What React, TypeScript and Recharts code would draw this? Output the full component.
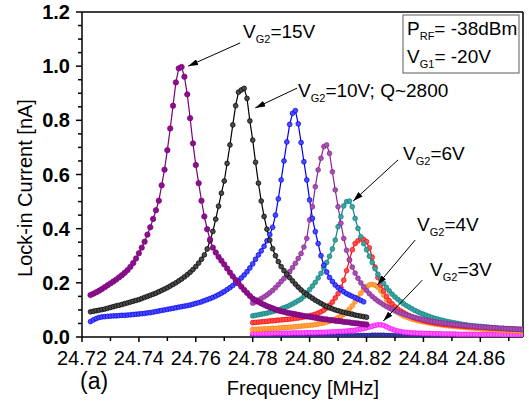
import { LineChart, Line, XAxis, YAxis, ReferenceLine } from 'recharts';

// frequency grid: each series is sampled every 1 kHz from its start frequency
const STEP = 0.001;

// V_G2 = 15 V, from 24.723 MHz
const vg15 = [
  0.155, 0.16, 0.165, 0.171, 0.177, 0.184, 0.191, 0.198, 0.205, 0.212,
  0.22, 0.228, 0.237, 0.247, 0.259, 0.273, 0.29, 0.309, 0.33, 0.352,
  0.378, 0.405, 0.436, 0.468, 0.503, 0.56, 0.618, 0.69, 0.77, 0.854,
  0.94, 0.992, 0.997, 0.961, 0.896, 0.808, 0.715, 0.635, 0.568, 0.503,
  0.445, 0.398, 0.36, 0.33, 0.312, 0.296, 0.282, 0.268, 0.253, 0.238,
  0.224, 0.211, 0.198, 0.186, 0.174, 0.163, 0.152, 0.142, 0.136, 0.13,
  0.124, 0.119, 0.114, 0.11, 0.106, 0.102, 0.098, 0.095, 0.093, 0.09,
  0.088, 0.086, 0.084, 0.082, 0.08, 0.078, 0.076, 0.075, 0.073, 0.071,
  0.069, 0.068, 0.066, 0.065, 0.063, 0.062, 0.06, 0.059, 0.058, 0.056,
  0.055, 0.054, 0.052, 0.051, 0.05, 0.048, 0.047, 0.046,
];

// V_G2 = 10 V, from 24.723 MHz
const vg10 = [
  0.093, 0.095, 0.097, 0.099, 0.101, 0.103, 0.106, 0.109, 0.112, 0.115,
  0.117, 0.12, 0.123, 0.126, 0.129, 0.132, 0.135, 0.138, 0.142, 0.146,
  0.15, 0.154, 0.158, 0.162, 0.167, 0.172, 0.177, 0.182, 0.188, 0.194,
  0.2, 0.207, 0.214, 0.222, 0.23, 0.239, 0.249, 0.26, 0.273, 0.287,
  0.303, 0.325, 0.355, 0.39, 0.435, 0.483, 0.531, 0.576, 0.641, 0.709,
  0.783, 0.854, 0.904, 0.912, 0.918, 0.881, 0.798, 0.727, 0.645, 0.568,
  0.502, 0.445, 0.398, 0.358, 0.326, 0.3, 0.278, 0.26, 0.245, 0.232,
  0.219, 0.207, 0.195, 0.184, 0.174, 0.165, 0.157, 0.15, 0.143, 0.136,
  0.13, 0.124, 0.118, 0.113, 0.108, 0.104, 0.1, 0.097, 0.094, 0.091,
  0.088, 0.086, 0.084, 0.081, 0.079, 0.077, 0.075, 0.073,
];

// blue curve, from 24.723 MHz
const vg8 = [
  0.057, 0.063, 0.068, 0.072, 0.074, 0.075, 0.076, 0.077, 0.078, 0.078,
  0.079, 0.08, 0.08, 0.081, 0.082, 0.083, 0.084, 0.085, 0.086, 0.087,
  0.089, 0.09, 0.092, 0.094, 0.096, 0.098, 0.1, 0.102, 0.104, 0.106,
  0.108, 0.11, 0.112, 0.114, 0.116, 0.118, 0.121, 0.124, 0.127, 0.13,
  0.134, 0.138, 0.142, 0.146, 0.151, 0.156, 0.162, 0.168, 0.175, 0.182,
  0.19, 0.199, 0.208, 0.218, 0.229, 0.241, 0.255, 0.27, 0.287, 0.303,
  0.318, 0.335, 0.355, 0.378, 0.405, 0.45, 0.51, 0.58, 0.65, 0.72,
  0.785, 0.826, 0.836, 0.787, 0.718, 0.647, 0.58, 0.506, 0.438, 0.389,
  0.345, 0.3, 0.265, 0.24, 0.22, 0.205, 0.192, 0.182, 0.174, 0.167,
  0.16, 0.155, 0.15, 0.145, 0.14, 0.135, 0.13,
];

// violet curve, from 24.780 MHz
const vg7 = [
  0.125, 0.13, 0.136, 0.142, 0.148, 0.155, 0.163, 0.172, 0.182, 0.193,
  0.205, 0.216, 0.228, 0.241, 0.256, 0.272, 0.29, 0.308, 0.332, 0.364,
  0.432, 0.481, 0.555, 0.617, 0.66, 0.703, 0.709, 0.678, 0.61, 0.543,
  0.481, 0.42, 0.364, 0.32, 0.285, 0.258, 0.236, 0.217, 0.2, 0.185,
  0.172, 0.16, 0.15, 0.141, 0.133, 0.126, 0.119, 0.113, 0.107, 0.102,
  0.097, 0.093, 0.089, 0.085, 0.081, 0.078, 0.075, 0.072, 0.069, 0.067,
  0.064, 0.062, 0.06, 0.058, 0.056, 0.054, 0.053, 0.051, 0.05, 0.048,
  0.047, 0.046, 0.045, 0.044, 0.043, 0.042, 0.041, 0.04, 0.039, 0.038,
  0.037, 0.036, 0.036, 0.035, 0.034, 0.034, 0.033, 0.032, 0.032, 0.031,
  0.031, 0.03, 0.03, 0.029, 0.029, 0.028,
];

// V_G2 = 6 V, from 24.780 MHz
const vg6 = [
  0.078, 0.08, 0.082, 0.084, 0.086, 0.088, 0.091, 0.094, 0.097, 0.1,
  0.104, 0.108, 0.112, 0.117, 0.122, 0.128, 0.134, 0.14, 0.15, 0.162,
  0.175, 0.188, 0.202, 0.218, 0.235, 0.255, 0.275, 0.298, 0.325, 0.358,
  0.407, 0.444, 0.484, 0.5, 0.502, 0.481, 0.438, 0.401, 0.37, 0.345,
  0.322, 0.298, 0.275, 0.252, 0.232, 0.214, 0.198, 0.183, 0.17, 0.158,
  0.148, 0.139, 0.131, 0.123, 0.116, 0.11, 0.104, 0.098, 0.093, 0.088,
  0.084, 0.08, 0.076, 0.072, 0.069, 0.066, 0.063, 0.061, 0.058, 0.056,
  0.054, 0.052, 0.05, 0.048, 0.046, 0.045, 0.043, 0.042, 0.041, 0.04,
  0.039, 0.038, 0.037, 0.036, 0.035, 0.034, 0.033, 0.032, 0.032, 0.031,
  0.03, 0.03, 0.029, 0.029, 0.028, 0.028,
];

// red curve, from 24.780 MHz
const vg5 = [
  0.053, 0.054, 0.055, 0.056, 0.057, 0.058, 0.059, 0.06, 0.061, 0.062,
  0.063, 0.064, 0.065, 0.066, 0.067, 0.069, 0.07, 0.072, 0.074, 0.076,
  0.078, 0.081, 0.084, 0.088, 0.093, 0.099, 0.107, 0.117, 0.129, 0.144,
  0.16, 0.183, 0.21, 0.245, 0.285, 0.322, 0.345, 0.355, 0.362, 0.36,
  0.352, 0.329, 0.295, 0.258, 0.22, 0.192, 0.17, 0.15, 0.134, 0.122,
  0.111, 0.103, 0.096, 0.09, 0.084, 0.079, 0.074, 0.07, 0.067, 0.064,
  0.061, 0.058, 0.056, 0.054, 0.052, 0.05, 0.049, 0.047, 0.046, 0.045,
  0.044, 0.043, 0.042, 0.041, 0.04, 0.039, 0.038, 0.038, 0.037, 0.036,
  0.036, 0.035, 0.034, 0.034, 0.033, 0.033, 0.032, 0.031, 0.031, 0.03,
  0.03, 0.029, 0.029, 0.028, 0.028, 0.027,
];

// V_G2 = 4 V, from 24.780 MHz
const vg4 = [
  0.028, 0.028, 0.029, 0.029, 0.03, 0.03, 0.031, 0.032, 0.032, 0.033,
  0.034, 0.035, 0.035, 0.036, 0.037, 0.038, 0.039, 0.04, 0.041, 0.042,
  0.043, 0.044, 0.046, 0.048, 0.05, 0.052, 0.055, 0.058, 0.062, 0.066,
  0.071, 0.076, 0.084, 0.093, 0.103, 0.115, 0.13, 0.146, 0.162, 0.176,
  0.186, 0.192, 0.194, 0.191, 0.184, 0.17, 0.155, 0.138, 0.122, 0.109,
  0.098, 0.09, 0.084, 0.078, 0.074, 0.07, 0.066, 0.063, 0.06, 0.058,
  0.056, 0.054, 0.052, 0.05, 0.048, 0.047, 0.045, 0.044, 0.042, 0.041,
  0.04, 0.039, 0.038, 0.037, 0.036, 0.035, 0.034, 0.033, 0.032, 0.031,
  0.03, 0.029, 0.029, 0.028, 0.027, 0.027, 0.026, 0.025, 0.025, 0.024,
  0.024, 0.023, 0.023, 0.022, 0.022, 0.021,
];

// V_G2 = 3 V, from 24.780 MHz
const vg3 = [
  0.013, 0.013, 0.013, 0.013, 0.013, 0.013, 0.013, 0.014, 0.014, 0.014,
  0.014, 0.014, 0.014, 0.014, 0.015, 0.015, 0.015, 0.015, 0.015, 0.016,
  0.016, 0.016, 0.016, 0.017, 0.017, 0.017, 0.018, 0.018, 0.019, 0.019,
  0.02, 0.02, 0.021, 0.022, 0.023, 0.024, 0.025, 0.027, 0.029, 0.031,
  0.034, 0.037, 0.04, 0.043, 0.045, 0.045, 0.043, 0.038, 0.033, 0.029,
  0.025, 0.022, 0.02, 0.018, 0.017, 0.016, 0.015, 0.015, 0.014, 0.014,
  0.013, 0.013, 0.013, 0.012, 0.012, 0.012, 0.012, 0.011, 0.011, 0.011,
  0.011, 0.011, 0.01, 0.01, 0.01, 0.01, 0.01, 0.01, 0.01, 0.009,
  0.009, 0.009, 0.009, 0.009, 0.009, 0.009, 0.009, 0.009, 0.008, 0.008,
  0.008, 0.008, 0.008, 0.008, 0.008, 0.008,
];

// lowest two traces, almost flat, from 24.780 MHz
const vg2 = [
  0.006, 0.006, 0.006, 0.006, 0.006, 0.006, 0.006, 0.006, 0.006, 0.006,
  0.006, 0.006, 0.006, 0.006, 0.006, 0.006, 0.006, 0.006, 0.006, 0.006,
  0.006, 0.006, 0.006, 0.006, 0.006, 0.006, 0.006, 0.006, 0.006, 0.006,
  0.006, 0.006, 0.006, 0.006, 0.006, 0.006, 0.006, 0.007, 0.007, 0.007,
  0.007, 0.007, 0.008, 0.008, 0.008, 0.008, 0.008, 0.007, 0.007, 0.007,
  0.006, 0.006, 0.006, 0.006, 0.006, 0.006, 0.006, 0.006, 0.006, 0.006,
  0.006, 0.006, 0.006, 0.006, 0.006, 0.006, 0.006, 0.006, 0.006, 0.006,
  0.006, 0.006, 0.005, 0.005, 0.005, 0.005, 0.005, 0.005, 0.005, 0.005,
  0.005, 0.005, 0.005, 0.005, 0.005, 0.005, 0.005, 0.005, 0.005, 0.005,
  0.005, 0.005, 0.005, 0.005, 0.005, 0.005,
];
const vg1 = [
  0.003, 0.003, 0.003, 0.003, 0.003, 0.003, 0.003, 0.003, 0.003, 0.003,
  0.003, 0.003, 0.003, 0.003, 0.003, 0.003, 0.003, 0.003, 0.003, 0.003,
  0.003, 0.003, 0.003, 0.003, 0.003, 0.003, 0.003, 0.003, 0.003, 0.003,
  0.003, 0.003, 0.003, 0.003, 0.003, 0.003, 0.003, 0.003, 0.003, 0.003,
  0.003, 0.003, 0.004, 0.004, 0.004, 0.004, 0.004, 0.003, 0.003, 0.003,
  0.003, 0.003, 0.003, 0.003, 0.003, 0.003, 0.003, 0.003, 0.003, 0.003,
  0.003, 0.003, 0.003, 0.003, 0.003, 0.003, 0.003, 0.003, 0.003, 0.003,
  0.003, 0.003, 0.003, 0.003, 0.003, 0.003, 0.003, 0.003, 0.003, 0.003,
  0.003, 0.003, 0.003, 0.003, 0.003, 0.003, 0.003, 0.003, 0.003, 0.003,
  0.003, 0.003, 0.003, 0.003, 0.003, 0.003,
];

const xTicks = [
  24.72, 24.73, 24.74, 24.75, 24.76, 24.77, 24.78, 24.79,
  24.8, 24.81, 24.82, 24.83, 24.84, 24.85, 24.86, 24.87,
];
const yTicks = [
  0, 0.05, 0.1, 0.15, 0.2, 0.25, 0.3, 0.35, 0.4, 0.45, 0.5, 0.55, 0.6,
  0.65, 0.7, 0.75, 0.8, 0.85, 0.9, 0.95, 1, 1.05, 1.1, 1.15, 1.2,
];

const X_MIN = 24.72;
const X_MAX = 24.875;
const Y_MAX = 1.2;

const W = 529;
const H = 406;
const M = { top: 12, right: 6, left: 0, bottom: 0 };
const Y_AXIS_W = 82;
const X_AXIS_H = 69;

const FONT = '"Liberation Sans", Arial, Helvetica, sans-serif';

const build = (start: number, vals: number[]) =>
  vals.map((v, i) => ({ f: +(start + i * STEP).toFixed(4), v }));

// drawn bottom first, so the tall early curves sit on top
const series = [
  { key: 'g1', data: build(24.78, vg1), stroke: '#0a6b3a', fill: '#2e9a5c', r: 2 },
  { key: 'g2', data: build(24.78, vg2), stroke: '#1a1a80', fill: '#3a3aa8', r: 2 },
  { key: 'g3', data: build(24.78, vg3), stroke: '#ff00ff', fill: '#ff66ff', r: 2.4 },
  { key: 'g4', data: build(24.78, vg4), stroke: '#ff7f00', fill: '#ffa64d', r: 2.4 },
  { key: 'g5', data: build(24.78, vg5), stroke: '#ff0000', fill: '#ff5050', r: 2.4 },
  { key: 'g6', data: build(24.78, vg6), stroke: '#0e8080', fill: '#3aa5a0', r: 2.4 },
  { key: 'g7', data: build(24.78, vg7), stroke: '#8a2596', fill: '#a650b0', r: 2.4 },
  { key: 'g8', data: build(24.723, vg8), stroke: '#0000ee', fill: '#4a4aff', r: 2.4 },
  { key: 'g10', data: build(24.723, vg10), stroke: '#000000', fill: '#4a4a4a', r: 2.4 },
  { key: 'g15', data: build(24.723, vg15), stroke: '#7a007a', fill: '#8c108c', r: 2.7 },
];

// data -> pixel, same geometry as the chart's plot area
const plotL = M.left + Y_AXIS_W;
const plotR = W - M.right;
const plotT = M.top;
const plotB = H - M.bottom - X_AXIS_H;
const px = (f: number) => plotL + ((f - X_MIN) / (X_MAX - X_MIN)) * (plotR - plotL);
const py = (v: number) => plotT + ((Y_MAX - v) / Y_MAX) * (plotB - plotT);

const XTick = (props: any) => {
  const { x, y, payload } = props;
  const v = payload.value as number;
  const major = Math.round(v * 100) % 2 === 0;
  return (
    <g>
      <line x1={x} y1={y} x2={x} y2={y + (major ? 5 : 4)} stroke="#000" strokeWidth={1.5} />
      {major && (
        <text x={x} y={y + 28} textAnchor="middle" fontSize={20} fontFamily={FONT} fill="#000">
          {v.toFixed(2)}
        </text>
      )}
    </g>
  );
};

const YTick = (props: any) => {
  const { x, y, payload } = props;
  const v = payload.value as number;
  const major = Math.round(v * 100) % 20 === 0;
  return (
    <g>
      <line x1={x - (major ? 6 : 4)} y1={y} x2={x} y2={y} stroke="#000" strokeWidth={1.5} />
      {major && (
        <text x={x - 12} y={y + 7} textAnchor="end" fontSize={20} fontWeight="bold" fontFamily={FONT} fill="#000">
          {v.toFixed(1)}
        </text>
      )}
    </g>
  );
};

function Sub({ x, y, main, sub, rest, size = 19 }: any) {
  return (
    <text x={x} y={y} fontSize={size} fontFamily={FONT} fill="#000">
      {main}
      <tspan fontSize={11} dy={5}>{sub}</tspan>
      <tspan dy={-5}>{rest}</tspan>
    </text>
  );
}

// arrows: [tail f, tail v, head f, head v]
const arrows = [
  [24.7756, 1.086, 24.7573, 1.0],
  [24.7956, 0.919, 24.7809, 0.846],
  [24.8311, 0.654, 24.8153, 0.502],
  [24.8371, 0.358, 24.8238, 0.192],
  [24.8396, 0.21, 24.8259, 0.059],
];

export default function App() {
  return (
    <div style={{ position: 'absolute', left: 0, top: 0, width: W, height: H, background: '#fff' }}>
      <LineChart width={W} height={H} margin={M}>
        <XAxis
          type="number"
          dataKey="f"
          domain={[X_MIN, X_MAX]}
          ticks={xTicks}
          interval={0}
          allowDataOverflow
          height={X_AXIS_H}
          tickSize={0}
          tickMargin={0}
          tickLine={false}
          tick={<XTick />}
          axisLine={{ stroke: '#000', strokeWidth: 1.5 }}
        />
        <YAxis
          type="number"
          dataKey="v"
          domain={[0, Y_MAX]}
          ticks={yTicks}
          interval={0}
          allowDataOverflow
          width={Y_AXIS_W}
          tickSize={0}
          tickMargin={0}
          tickLine={false}
          tick={<YTick />}
          axisLine={{ stroke: '#000', strokeWidth: 1.5 }}
        />
        <ReferenceLine y={Y_MAX} stroke="#000" strokeWidth={1.5} />
        <ReferenceLine x={X_MAX} stroke="#000" strokeWidth={1.5} />
        {series.map((s) => (
          <Line
            key={s.key}
            data={s.data}
            dataKey="v"
            type="linear"
            stroke={s.stroke}
            strokeWidth={1.2}
            dot={{ r: s.r, fill: s.fill, stroke: s.stroke, strokeWidth: 0.7 }}
            activeDot={false}
            isAnimationActive={false}
          />
        ))}
      </LineChart>
      <svg width={W} height={H} style={{ position: 'absolute', left: 0, top: 0, pointerEvents: 'none' }}>
        <defs>
          <marker id="ah" markerWidth="10" markerHeight="6" refX="10" refY="3" orient="auto" markerUnits="userSpaceOnUse">
            <path d="M0,0 L10,3 L0,6 Z" fill="#000" />
          </marker>
        </defs>
        {arrows.map((a, i) => (
          <line
            key={i}
            x1={px(a[0])}
            y1={py(a[1])}
            x2={px(a[2])}
            y2={py(a[3])}
            stroke="#000"
            strokeWidth={1}
            markerEnd="url(#ah)"
          />
        ))}
        <Sub x={243} y={38} main="V" sub="G2" rest="=15V" />
        <Sub x={298} y={97} main="V" sub="G2" rest="=10V; Q~2800" />
        <Sub x={403} y={160} main="V" sub="G2" rest="=6V" />
        <Sub x={417} y={231} main="V" sub="G2" rest="=4V" />
        <Sub x={430} y={276} main="V" sub="G2" rest="=3V" />
        <rect x={403} y={15} width={116} height={58} fill="#fff" stroke="#777" strokeWidth={1.2} />
        <Sub x={407} y={35} main="P" sub="RF" rest="= -38dBm" />
        <Sub x={407} y={63} main="V" sub="G1" rest="= -20V" />
        <text
          x={32}
          y={188}
          transform="rotate(-90, 32, 188)"
          textAnchor="middle"
          fontSize={20}
          fontFamily={FONT}
          fill="#000"
        >
          Lock-in Current [nA]
        </text>
        <text x={303} y={395} textAnchor="middle" fontSize={20} fontFamily={FONT} fill="#000">
          Frequency [MHz]
        </text>
        <text x={80} y={389} fontSize={23} fontFamily={FONT} fill="#000">
          (a)
        </text>
      </svg>
    </div>
  );
}
